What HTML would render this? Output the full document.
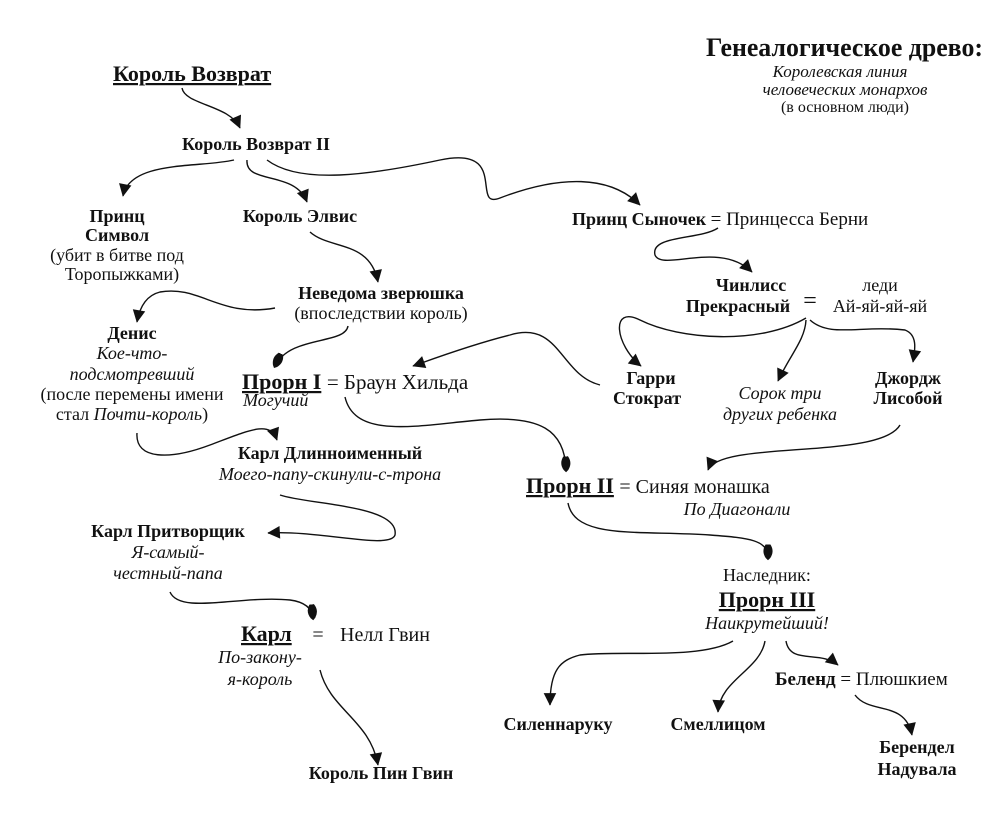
<!DOCTYPE html>
<html><head><meta charset="utf-8"><style>
html,body{margin:0;padding:0;background:#fff}
svg{display:block}
text{font-family:"Liberation Serif",serif;fill:#111}
.b{font-weight:bold}
.i{font-style:italic}
</style></head><body>
<svg width="1000" height="836" viewBox="0 0 1000 836" xmlns="http://www.w3.org/2000/svg">
<defs>
<marker id="a" viewBox="0 0 10 10" refX="9" refY="5" markerWidth="9" markerHeight="9" orient="auto-start-reverse" markerUnits="userSpaceOnUse" overflow="visible">
<path d="M0,0 L10,5 L0,10 Z" fill="#111" transform="scale(1.4) translate(-3,-1.4)"/>
</marker>
<marker id="bl" viewBox="0 0 14 10" refX="12" refY="5" markerWidth="16" markerHeight="12" orient="auto" markerUnits="userSpaceOnUse">
<path d="M0,3 Q6,-1 12,3 L14,5 L12,7 Q6,11 0,7 Z" fill="#111"/>
</marker>
</defs>
<g fill="none" stroke="#111" stroke-width="1.4">
<path d="M182,88 C185,105 230,105 240,128" marker-end="url(#a)"/>
<path d="M234,160 C200,168 130,160 123,196" marker-end="url(#a)"/>
<path d="M247,160 C245,185 295,170 307,202" marker-end="url(#a)"/>
<path d="M267,160 C300,185 370,175 440,160 C510,145 470,210 500,198 C560,175 610,175 640,205" marker-end="url(#a)"/>
<path d="M718,228 C700,240 650,235 655,255 C662,272 720,240 752,272" marker-end="url(#a)"/>
<path d="M310,232 C330,250 370,240 378,282" marker-end="url(#a)"/>
<path d="M275,308 C220,318 200,285 160,292 C148,295 140,305 137,322" marker-end="url(#a)"/>
<path d="M348,326 C345,345 290,335 275,366" marker-end="url(#bl)"/>
<path d="M600,385 C560,375 560,320 510,335 C470,345 430,360 413,366" marker-end="url(#a)"/>
<path d="M806,318 C760,345 680,340 640,320 C610,305 615,345 641,366" marker-end="url(#a)"/>
<path d="M806,320 C805,340 790,355 778,381" marker-end="url(#a)"/>
<path d="M810,320 C830,338 860,325 905,330 C918,335 915,350 913,362" marker-end="url(#a)"/>
<path d="M900,425 C880,460 720,440 708,470" marker-end="url(#a)"/>
<path d="M345,397 C355,440 420,425 480,420 C540,415 565,430 566,470" marker-end="url(#bl)"/>
<path d="M137,433 C135,460 170,460 210,445 C250,430 270,420 277,440" marker-end="url(#a)"/>
<path d="M280,495 C310,505 400,505 395,535 C390,550 320,530 268,533" marker-end="url(#a)"/>
<path d="M170,592 C180,615 240,595 290,600 C305,602 312,608 313,618" marker-end="url(#bl)"/>
<path d="M568,503 C575,540 640,530 710,535 C750,538 768,540 768,558" marker-end="url(#bl)"/>
<path d="M733,641 C700,660 620,650 580,655 C560,660 550,670 550,705" marker-end="url(#a)"/>
<path d="M765,641 C760,670 720,680 718,712" marker-end="url(#a)"/>
<path d="M786,641 C790,665 820,650 838,665" marker-end="url(#a)"/>
<path d="M320,670 C330,710 370,720 378,765" marker-end="url(#a)"/>
<path d="M855,695 C870,715 905,700 912,735" marker-end="url(#a)"/>
</g>

<text x="706" y="56" class="b" font-size="26" textLength="277" lengthAdjust="spacingAndGlyphs">Генеалогическое древо:</text>
<text x="840" y="77" class="i" font-size="17" text-anchor="middle">Королевская линия</text>
<text x="845" y="95" class="i" font-size="17" text-anchor="middle">человеческих монархов</text>
<text x="845" y="112" font-size="16" text-anchor="middle">(в основном люди)</text>

<text x="113" y="81" class="b" font-size="22" text-decoration="underline">Король Возврат</text>
<text x="256" y="150" class="b" font-size="18" text-anchor="middle">Король Возврат II</text>

<g font-size="18" text-anchor="middle">
<text x="117" y="222" class="b">Принц</text>
<text x="117" y="241" class="b">Символ</text>
<text x="117" y="261">(убит в битве под</text>
<text x="122" y="280">Торопыжками)</text>
<text x="300" y="222" class="b">Король Элвис</text>
<text x="381" y="299" class="b">Неведома зверюшка</text>
<text x="381" y="319">(впоследствии король)</text>
<text x="132" y="339" class="b">Денис</text>
<text x="132" y="359" class="i">Кое-что-</text>
<text x="132" y="380" class="i">подсмотревший</text>
<text x="132" y="400">(после перемены имени</text>
<text x="132" y="420">стал <tspan class="i">Почти-король</tspan>)</text>
<text x="751" y="291" class="b">Чинлисс</text>
<text x="738" y="312" class="b">Прекрасный</text>
<text x="880" y="291">леди</text>
<text x="880" y="312">Ай-яй-яй-яй</text>
<text x="651" y="384" class="b">Гарри</text>
<text x="647" y="404" class="b">Стократ</text>
<text x="780" y="399" class="i">Сорок три</text>
<text x="780" y="420" class="i">других ребенка</text>
<text x="908" y="384" class="b">Джордж</text>
<text x="908" y="404" class="b">Лисобой</text>
<text x="330" y="459" class="b">Карл Длинноименный</text>
<text x="330" y="480" class="i">Моего-папу-скинули-с-трона</text>
<text x="737" y="515" class="i">По Диагонали</text>
<text x="168" y="537" class="b">Карл Притворщик</text>
<text x="168" y="558" class="i">Я-самый-</text>
<text x="168" y="579" class="i">честный-папа</text>
<text x="767" y="581">Наследник:</text>
<text x="767" y="629" class="i">Наикрутейший!</text>
<text x="260" y="663" class="i">По-закону-</text>
<text x="260" y="685" class="i">я-король</text>
<text x="558" y="730" class="b">Силеннаруку</text>
<text x="718" y="730" class="b">Смеллицом</text>
<text x="917" y="753" class="b">Берендел</text>
<text x="917" y="775" class="b">Надувала</text>
<text x="381" y="779" class="b">Король Пин Гвин</text>
</g>
<text x="810" y="308" font-size="24" text-anchor="middle">=</text>

<text x="572" y="225" font-size="18"><tspan class="b">Принц Сыночек</tspan> <tspan font-size="19">= Принцесса Берни</tspan></text>

<text x="242" y="389" font-size="22"><tspan class="b" text-decoration="underline">Прорн I</tspan> <tspan font-size="21">= Браун Хильда</tspan></text>
<text x="243" y="406" class="i" font-size="18">Могучий</text>

<text x="526" y="493" font-size="22"><tspan class="b" text-decoration="underline">Прорн II</tspan> <tspan font-size="20">= Синяя монашка</tspan></text>

<text x="767" y="607" class="b" font-size="22" text-anchor="middle" text-decoration="underline">Прорн III</text>

<text x="241" y="641" class="b" font-size="22" text-decoration="underline">Карл</text>
<text x="318" y="641" font-size="20" text-anchor="middle">=</text>
<text x="340" y="641" font-size="20">Нелл Гвин</text>

<text x="775" y="685" font-size="19"><tspan class="b">Беленд</tspan> = Плюшкием</text>
</svg>
</body></html>
